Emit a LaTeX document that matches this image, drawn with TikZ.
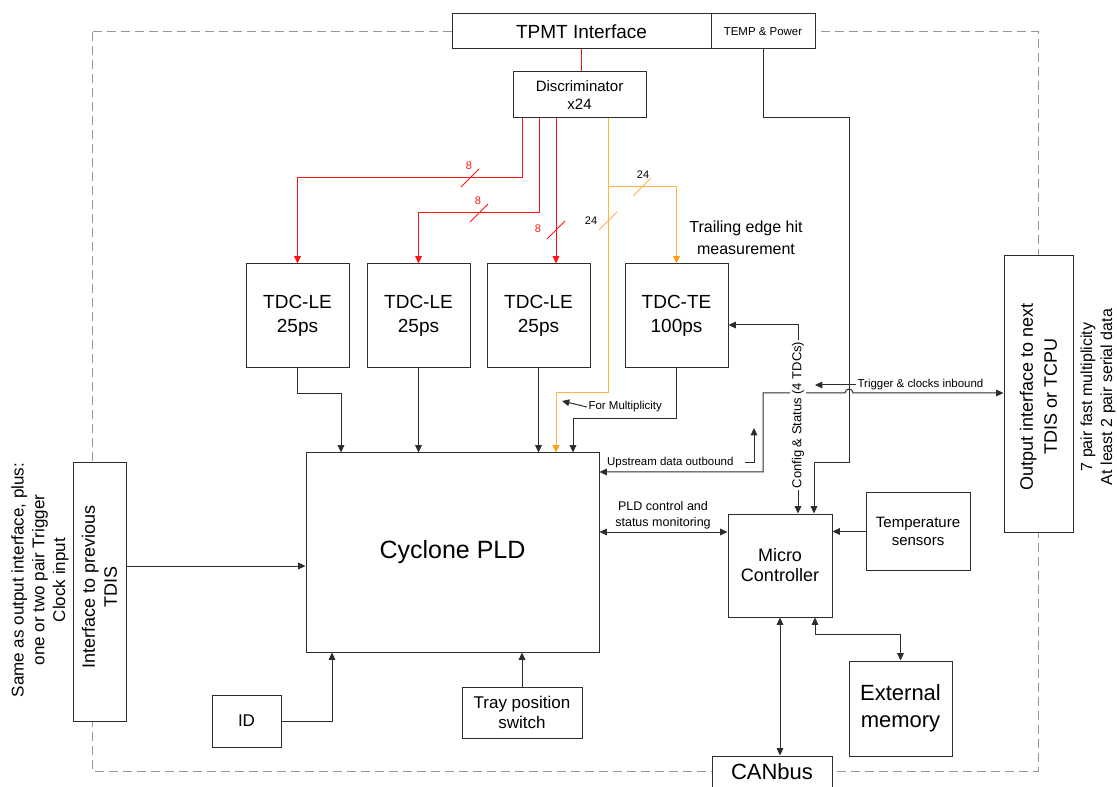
\documentclass[tikz,border=0pt]{standalone}
\usepackage{fontspec}
\setmainfont{Liberation Sans}
\usetikzlibrary{arrows.meta,fit}
\definecolor{ln}{RGB}{45,45,45}
\definecolor{orng}{RGB}{255,180,70}
\definecolor{orngtip}{RGB}{255,160,20}
\definecolor{rd}{RGB}{255,20,20}
\definecolor{dsh}{RGB}{150,150,150}
\newcommand\fsz[2]{\fontsize{#1}{#2}\selectfont}
\begin{document}
\begin{tikzpicture}[x=0.75pt,y=-0.75pt,
  box/.style={draw=ln, line width=0.75pt, fill=white, inner sep=0pt},
  txt/.style={align=center, inner sep=0pt},
  conn/.style={draw=ln, line width=0.75pt},
  redl/.style={draw=rd, line width=0.75pt},
  orl/.style={draw=orng, line width=0.75pt},
  arr/.style={-{Triangle[length=5.5pt,width=5pt]}},
  oarr/.style={-{Triangle[length=5.5pt,width=5pt,color=orngtip]}},
  darr/.style={{Triangle[length=5.5pt,width=5pt]}-{Triangle[length=5.5pt,width=5pt]}},
  small/.style={font=\fsz{8.6}{10.5}, inner sep=1pt},
  buslbl/.style={font=\fsz{8.25}{10}, inner sep=0pt}]
\useasboundingbox (0,0) rectangle (1117,787);
% dashed enclosure
\draw[dsh, line width=0.75pt, dash pattern=on 6.75pt off 3.75pt] (92,32) rectangle (1038,771);

% boxes
\node[box, fit={(452,14) (711,49)}] (tpmt) {};
\node[txt, font=\fsz{14.25}{17}] (tpmtt) at (tpmt.center) {TPMT Interface};
\node[box, fit={(711,14) (815,49)}] (temp) {};
\node[txt, font=\fsz{8.6}{10}] (tempt) at (temp.center) {TEMP \& Power};
\node[box, fit={(513,72) (646,118)}] (disc) {};
\node[txt, font=\fsz{11.25}{13.5}] (disct) at (disc.center) {Discriminator\\x24};
\node[box, fit={(246,264) (349,368)}] (tdc1) {};
\node[txt, font=\fsz{14.25}{18}] (tdc1t) at (tdc1.center) {TDC-LE\\25ps};
\node[box, fit={(367,264) (470,368)}] (tdc2) {};
\node[txt, font=\fsz{14.25}{18}] (tdc2t) at (tdc2.center) {TDC-LE\\25ps};
\node[box, fit={(487,264) (590,368)}] (tdc3) {};
\node[txt, font=\fsz{14.25}{18}] (tdc3t) at (tdc3.center) {TDC-LE\\25ps};
\node[box, fit={(625,264) (728,368)}] (tdcte) {};
\node[txt, font=\fsz{14.25}{18}] (tdctet) at (tdcte.center) {TDC-TE\\100ps};
\node[box, fit={(306,453) (599,652)}] (cyclone) {};
\node[txt, font=\fsz{18.75}{22}] (cyclonet) at (cyclone.center) {Cyclone PLD};
\node[box, fit={(728,514) (832,617)}] (micro) {};
\node[txt, font=\fsz{13.5}{15}] (microt) at (micro.center) {Micro\\Controller};
\node[box, fit={(866,493) (970,570)}] (temps) {};
\node[txt, font=\fsz{11.25}{13.5}] (tempst) at (temps.center) {Temperature\\sensors};
\node[box, fit={(849,661) (952,756)}] (extmem) {};
\node[txt, font=\fsz{16.5}{20}] (extmemt) at (extmem.center) {External\\memory};
\node[box, fit={(712,756) (832,792)}] (canbus) {};
\node[txt, font=\fsz{16.5}{20}] (canbust) at (772,772) {CANbus};
\node[box, fit={(212,695) (281,747)}] (id) {};
\node[txt, font=\fsz{12.75}{15}] (idt) at (id.center) {ID};
\node[box, fit={(462,687) (582,738)}] (tray) {};
\node[txt, font=\fsz{12.75}{15}] (trayt) at (tray.center) {Tray position\\switch};
\node[box, fit={(73,463) (126,721)}] (prev) {};
\node[txt, rotate=90, font=\fsz{13.5}{16.5}] (prevt) at ([yshift=4]prev.center) {Interface to previous\\TDIS};
\node[box, fit={(1004,256) (1073,532)}] (outif) {};
\node[txt, rotate=90, font=\fsz{13.5}{18}] (outift) at ([yshift=-2]outif.center) {Output interface to next\\TDIS or TCPU};

% free labels
\node[txt, rotate=90, font=\fsz{12.75}{15.5}] (leftlbl) at (40,580) {Same as output interface, plus:\\one or two pair Trigger\\Clock input};
\node[txt, rotate=90, font=\fsz{12}{15}] (rightlbl) at (1098,397) {7 pair fast multiplicity\\At least 2 pair serial data};
\node[txt, font=\fsz{12}{16.5}] (trail) at (746,238) {Trailing edge hit\\measurement};

% red signal lines
\draw[redl] (tpmt.south) -- (tpmt.south |- disc.north);
\draw[redl, arr] (disc.south -| 522,0) -- (522,178) -| (tdc1.north);
\draw[redl, arr] (disc.south -| 539,0) -- (539,213) -| (tdc2.north);
\draw[redl, arr] (disc.south -| 556,0) -- (tdc3.north -| 556,0);
% bus slashes
\draw[redl] (461,187) -- (479,169);
\node[buslbl, text=rd] (b1) at (469,166) {8};
\draw[redl] (470,222) -- (488,204);
\node[buslbl, text=rd] (b2) at (478,201) {8};
\draw[redl] (547,239) -- (565,221);
\node[buslbl, text=rd] (b3) at (538,229) {8};

% orange lines
\draw[orl, oarr] (disc.south -| 608,0) -- (608,393) -- (556,393) -- (cyclone.north -| 556,0);
\draw[orl, oarr] (608,187) -| (tdcte.north);
\draw[orl] (633,196) -- (651,178);
\node[buslbl] (b4) at (643,175) {24};
\draw[orl] (599,230) -- (617,212);
\node[buslbl] (b5) at (591,221) {24};

% TDC to cyclone
\draw[conn, arr] (tdc1.south) |- (341,394) -- (cyclone.north -| 341,0);
\draw[conn, arr] (tdc2.south) -- (cyclone.north -| tdc2.south);
\draw[conn, arr] (tdc3.south) -- (cyclone.north -| tdc3.south);
\draw[conn, arr] (tdcte.south) |- (573,419) -- (cyclone.north -| 573,0);

% For multiplicity
\node[small, anchor=west] (mult) at (587,407) {For Multiplicity};
\draw[conn, arr] (mult.west) -- (562,401);

% TEMP & Power to micro
\draw[conn, arr] (temp.south) |- (849,118) |- (814,463) -- (micro.north -| 814,0);

% upstream / trigger path
\draw[conn, darr] (cyclone.east |- 0,472) -| (763,393) -- (845,393) arc[start angle=180, end angle=360, radius=4] -- (outif.west |- 0,393);
\node[small, anchor=west] (trig) at (856,385) {Trigger \& clocks inbound};
\draw[conn, arr] (trig.west) -- (815,385);
\node[small, anchor=east] (ups) at (735,463) {Upstream data outbound};
\draw[conn, arr] (745,463) -- (754,463) -- (754,428);

% config & status
\draw[conn, darr] (tdcte.east |- 0,325) -| (micro.north -| 798,0);
\node[rotate=90, fill=white, inner sep=1.5pt, font=\fsz{9.75}{11}] (cfg) at (798,415) {Config \& Status (4 TDCs)};

% PLD control
\draw[conn, darr] (cyclone.east |- 0,532) -- (micro.west |- 0,532);
\node[txt, font=\fsz{9.4}{12}] (pldlbl) at (663,515) {PLD control and\\status monitoring};

% temperature sensors
\draw[conn, arr] (temps.west) -- (micro.east |- temps.west);

% micro to CANbus and memory
\draw[conn, darr] (micro.south) -- (canbus.north -| micro.south);
\draw[conn, darr] (micro.south -| 815,0) |- (extmem.north |- 0,634) -- (extmem.north);

% ID, tray, previous
\draw[conn, arr] (id.east) -| (cyclone.south -| 332,0);
\draw[conn, arr] (tray.north) -- (cyclone.south -| tray.north);
\draw[conn, arr] (prev.east |- 0,566) -- (cyclone.west |- 0,566);
\end{tikzpicture}
\end{document}
